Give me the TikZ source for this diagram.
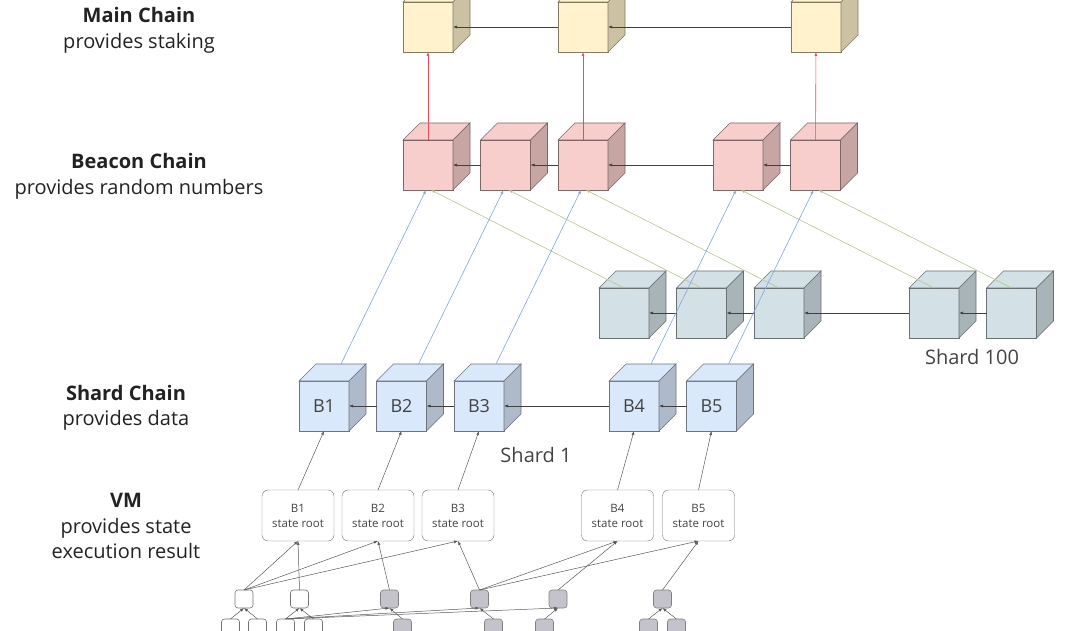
\documentclass[tikz,border=0pt]{standalone}
\usepackage{fontspec}
\setmainfont{Open Sans}
\usepackage{tikz}
\usetikzlibrary{positioning, arrows.meta}

\definecolor{mainfill}{HTML}{FFF2CC}
\definecolor{beaconfill}{HTML}{F8CECC}
\definecolor{hundredfill}{HTML}{D3E1E6}
\definecolor{shardfill}{HTML}{DAE8FC}
\definecolor{leafgray}{HTML}{C4C3CB}
\definecolor{linkblue}{HTML}{7EA6E0}
\definecolor{linkgreen}{HTML}{B5C68C}
\definecolor{linkred}{HTML}{E0505A}
\definecolor{ink}{HTML}{222222}

% top and right faces of a block cube
\newcommand{\cubefaces}[2]{%
  \filldraw[fill=#2, draw=#2!50!black, line width=0.6pt] (#1.north west) -- ++(17,-17) -- ++(50,0) -- (#1.north east) -- cycle;
  \filldraw[fill=#2!80!black, draw=#2!50!black, line width=0.6pt] (#1.north east) -- ++(17,-17) -- ++(0,50) -- (#1.south east) -- cycle;
  \coordinate (#1-back) at ([xshift=17pt,yshift=17pt]#1.north);
}

\begin{document}
\begin{tikzpicture}[x=1pt, y=-1pt,
    node distance=27.5pt,
    cube/.style={draw=#1!50!black, fill=#1, line width=0.6pt, minimum size=50pt, inner sep=0pt, outer sep=0pt,
      text=ink!85, font=\fontsize{18}{20}\selectfont},
    title/.style={anchor=base, text=ink, font=\fontsize{20}{24}\selectfont\bfseries},
    sub/.style={anchor=base, text=ink, font=\fontsize{20}{24}\selectfont},
    vmbox/.style={draw=black!55, rounded corners=6pt, minimum width=72pt, minimum height=51pt, inner sep=0pt,
      outer sep=0pt, align=center, text=ink!85, font=\fontsize{11.5}{15}\selectfont},
    leaf/.style={draw=black!#1, rounded corners=3pt, minimum size=18pt, inner sep=0pt, outer sep=0pt, line width=0.6pt},
    chain/.style={->, draw=black!75, line width=0.6pt},
    tree/.style={->, draw=black!65, line width=0.5pt},
    >={Latex[length=4pt,width=3pt]}]
\clip (0,0) rectangle (1080,631);

% side labels
\node[title] (mainT) at (139,23) {Main Chain};
\node[sub] (mainS) at (139,49) {provides staking};
\node[title] (beaconT) at (139,169) {Beacon Chain};
\node[sub] (beaconS) at (139,195) {provides random numbers};
\node[title] (shardT) at (126,400) {Shard Chain};
\node[sub] (shardS) at (126,425) {provides data};
\node[title] (vmT) at (126,507) {VM};
\node[sub] (vmS) at (126,533) {provides state};
\node[sub] (vmE) at (126,558) {execution result};

% main chain
\node[cube=mainfill] (mc1) at (428,27) {};
\node[cube=mainfill, right=105pt of mc1] (mc2) {};
\node[cube=mainfill, right=183pt of mc2] (mc3) {};

% beacon chain
\node[cube=beaconfill] (bc1) at (428,165) {};
\node[cube=beaconfill, right=of bc1] (bc2) {};
\node[cube=beaconfill, right=of bc2] (bc3) {};
\node[cube=beaconfill, right=105pt of bc3] (bc4) {};
\node[cube=beaconfill, right=of bc4] (bc5) {};

% shard 100
\node[cube=hundredfill] (sa1) at (624,313) {};
\node[cube=hundredfill, right=of sa1] (sa2) {};
\node[cube=hundredfill, right=of sa2] (sa3) {};
\node[cube=hundredfill, right=105pt of sa3] (sa4) {};
\node[cube=hundredfill, right=of sa4] (sa5) {};
\node[sub, text=ink!85] (shard100) at (972,364) {Shard 100};

% shard 1
\node[cube=shardfill] (sb1) at (324,406) {B1};
\node[cube=shardfill, right=of sb1] (sb2) {B2};
\node[cube=shardfill, right=of sb2] (sb3) {B3};
\node[cube=shardfill, right=105pt of sb3] (sb4) {B4};
\node[cube=shardfill, right=of sb4] (sb5) {B5};
\node[sub, text=ink!85] (shard1) at (536,462) {Shard 1};

\foreach \c in {mc1,mc2,mc3} {\cubefaces{\c}{mainfill}}
\foreach \c in {bc1,bc2,bc3,bc4,bc5} {\cubefaces{\c}{beaconfill}}
\foreach \c in {sa1,sa2,sa3,sa4,sa5} {\cubefaces{\c}{hundredfill}}
\foreach \c in {sb1,sb2,sb3,sb4,sb5} {\cubefaces{\c}{shardfill}}

% state roots
\node[vmbox] (vm1) at (298,515.5) {B1\\state root};
\node[vmbox, right=8pt of vm1] (vm2) {B2\\state root};
\node[vmbox, right=8pt of vm2] (vm3) {B3\\state root};
\node[vmbox] (vm4) at (617.5,515.5) {B4\\state root};
\node[vmbox, right=9pt of vm4] (vm5) {B5\\state root};

% state trie
\node[leaf=55, fill=white] (r1) at (244,599) {};
\node[leaf=55, fill=white] (r2) at (299.5,599) {};
\node[leaf=50, fill=leafgray] (r3) at (389.5,599) {};
\node[leaf=50, fill=leafgray] (r4) at (479.5,599) {};
\node[leaf=50, fill=leafgray] (r5) at (558,599) {};
\node[leaf=50, fill=leafgray] (r6) at (662.5,599) {};
\node[leaf=55, fill=white] (q1) at (230.5,628) {};
\node[leaf=55, fill=white] (q2) at (257.5,628) {};
\node[leaf=55, fill=white] (q3) at (285.5,628) {};
\node[leaf=55, fill=white] (q4) at (313.5,628) {};
\node[leaf=50, fill=leafgray] (q5) at (402.5,628) {};
\node[leaf=50, fill=leafgray] (q6) at (493.5,628) {};
\node[leaf=50, fill=leafgray] (q7) at (544.5,628) {};
\node[leaf=50, fill=leafgray] (q8) at (648.5,628) {};
\node[leaf=50, fill=leafgray] (q9) at (676.5,628) {};

% chain links
\draw[chain] (mc2) -- (mc1);
\draw[chain] (mc3) -- (mc2);
\draw[chain] (bc2) -- (bc1);
\draw[chain] (bc3) -- (bc2);
\draw[chain] (bc4) -- (bc3);
\draw[chain] (bc5) -- (bc4);
\draw[chain] (sa2) -- (sa1);
\draw[chain] (sa3) -- (sa2);
\draw[chain] (sa4) -- (sa3);
\draw[chain] (sa5) -- (sa4);
\draw[chain] (sb2) -- (sb1);
\draw[chain] (sb3) -- (sb2);
\draw[chain] (sb4) -- (sb3);
\draw[chain] (sb5) -- (sb4);

% beacon to main chain
\draw[->, linkred, line width=0.6pt] (bc1) -- (mc1);
\draw[->, linkred, line width=0.6pt] (bc3) -- (mc2);
\draw[->, linkred, line width=0.6pt] (bc5) -- (mc3);

% shards to beacon chain
\foreach \i in {1,...,5} {
  \draw[->, linkgreen, line width=0.6pt] (sa\i.north) -- ([xshift=3pt]bc\i.south);
  \draw[->, linkblue, line width=0.6pt] (sb\i-back) -- ([xshift=-2pt]bc\i.south);
}

% state roots to blocks
\foreach \i in {1,...,5} {
  \draw[tree] (vm\i.north) -- (sb\i.south);
}

% trie to state roots
\draw[tree] (r1.north) -- (vm1.south);
\draw[tree] (r1.north) -- (vm2.south);
\draw[tree] (r1.north) -- (vm3.south);
\draw[tree] (r2.north) -- (vm1.south);
\draw[tree] (r3.north) -- (vm2.south);
\draw[tree] (r4.north) -- (vm3.south);
\draw[tree] (r4.north) -- (vm4.south);
\draw[tree] (r4.north) -- (vm5.south);
\draw[tree] (r5.north) -- (vm4.south);
\draw[tree] (r6.north) -- (vm5.south);

% lower trie level
\draw[tree] (q1.north) -- (r1.south);
\draw[tree] (q2.north) -- (r1.south);
\draw[tree] (q3.north) -- (r2.south);
\draw[tree] (q4.north) -- (r2.south);
\draw[tree] (q3.north) -- (r3.south);
\draw[tree] (q3.north) -- (r4.south);
\draw[tree] (q3.north) -- (r5.south);
\draw[tree] (q5.north) -- (r3.south);
\draw[tree] (q6.north) -- (r4.south);
\draw[tree] (q7.north) -- (r5.south);
\draw[tree] (q8.north) -- (r6.south);
\draw[tree] (q9.north) -- (r6.south);
\end{tikzpicture}
\end{document}
